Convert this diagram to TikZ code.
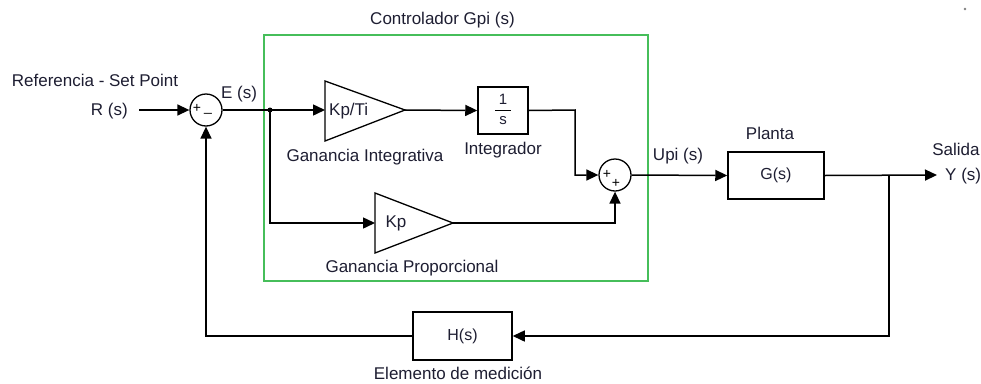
\documentclass[tikz,border=0pt]{standalone}
\usepackage{fontspec}
\setmainfont{Liberation Sans}
\usetikzlibrary{arrows.meta}
\definecolor{ink}{RGB}{30,30,50}
\definecolor{framegreen}{RGB}{70,190,90}

\begin{document}
\begin{tikzpicture}[x=1pt,y=-1pt,
  wire/.style={line width=1.5pt, draw=black},
  arr/.style={wire,-{Triangle[length=12pt,width=11pt]}},
  block/.style={draw, line width=1.5pt, inner sep=0pt, text=ink,
                font=\fontsize{16}{19}\selectfont},
  sumnode/.style={circle, draw, line width=1.3pt, minimum size=32pt, inner sep=0pt},
  lbl/.style={text=ink, font=\fontsize{17}{20}\selectfont, inner sep=0pt},
  sign/.style={text=black, font=\fontsize{14}{14}\selectfont, inner sep=0pt},
]
\fill[white] (0,0) rectangle (981,383);
\useasboundingbox (0,0) rectangle (981,383);

% controller frame
\node[draw=framegreen, line width=1.4pt, minimum width=384pt, minimum height=246pt,
      inner sep=0pt] (ctrl) at (456,158) {};
\node[lbl] (ctrltitle) at (442.5,20) {Controlador Gpi (s)};

% summing junctions
\node[sumnode] (s1) at (206,110) {};
\node[sign] (s1p) at (197,108) {+};
\node[sign] (s1m) at (208,113) {\_};
\node[sumnode] (s2) at (615,175) {};
\node[sign] (s2a) at (607,174) {+};
\node[sign] (s2b) at (616,183) {+};

% gain triangles
\draw[wire, line width=1.3pt] (325,81) -- (405,110) -- (325,141) -- cycle;
\coordinate (kiin) at (325,110);
\coordinate (kiout) at (405,110);
\node[lbl, anchor=west] (kitext) at (329,111) {Kp/Ti};

\draw[wire, line width=1.3pt] (375,193) -- (453,223) -- (375,253) -- cycle;
\coordinate (kpin) at (375,223);
\coordinate (kpout) at (453,223);
\node[lbl] (kptext) at (396,223) {Kp};

% integrator
\node[block, minimum width=50pt, minimum height=47pt] (integ) at (503,110.5) {};
\node[lbl, font=\fontsize{15}{15}\selectfont] (inum) at (503,99) {1};
\draw[line width=1pt] (495,110) -- (511,110);
\node[lbl, font=\fontsize{15}{15}\selectfont] (iden) at (503,121) {s};

% plant and sensor
\node[block, minimum width=96pt, minimum height=47pt] (plant) at (776,175.5) {G(s)};
\node[block, minimum width=99pt, minimum height=48pt] (sensor) at (462.5,336) {H(s)};

% points on the wires
\coordinate (rin) at (139,110);
\coordinate (jn) at (270,110);
\coordinate (bend) at (575,110);
\coordinate (br) at (889,175);
\coordinate (yout) at (937,175);
\fill (jn) circle (2.5pt);

% connectors
\draw[arr] (rin) -- (s1.west);
\draw[wire] (s1.east) -- (jn);
\draw[arr] (jn) -- (kiin);
\draw[arr] (kiout) -- (integ.west);
\draw[arr] (integ.east) -- (bend) |- (s2.west);
\draw[arr] (jn) |- (kpin);
\draw[arr] (kpout) -| (s2.south);
\draw[arr] (s2.east) -- (plant.west);
\draw[arr] (plant.east) -- (yout);
\draw[arr] (br) |- (sensor.east);
\draw[arr] (sensor.west) -| (s1.south);

% labels
\node[lbl] (reflbl) at (95,80) {Referencia - Set Point};
\node[lbl, anchor=east] (rlbl) at (128,111) {R (s)};
\node[lbl] (elbl) at (239,94) {E (s)};
\node[lbl] (gilbl) at (365,157) {Ganancia Integrativa};
\node[lbl] (intlbl) at (503,150) {Integrador};
\node[lbl] (gplbl) at (412,268) {Ganancia Proporcional};
\node[lbl] (upilbl) at (678,156) {Upi (s)};
\node[lbl] (plantlbl) at (770,133) {Planta};
\node[lbl] (sallbl) at (956,149) {Salida};
\node[lbl, anchor=west] (ylbl) at (945,176) {Y (s)};
\node[lbl] (hlbl) at (458,373) {Elemento de medición};

% stray mark in the corner
\fill[gray] (965,9) circle (1.3pt);
\end{tikzpicture}
\end{document}
